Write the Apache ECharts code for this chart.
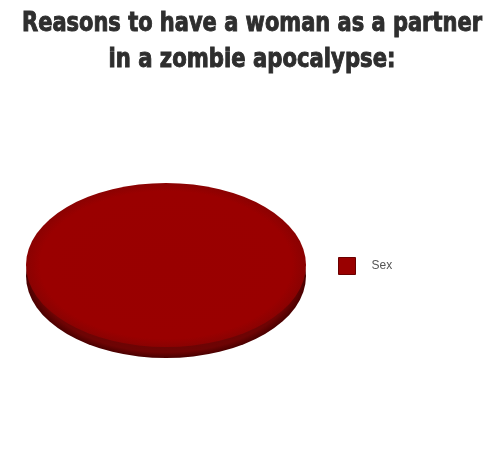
<!DOCTYPE html>
<html>
<head>
<meta charset="utf-8">
<script src="https://cdn.jsdelivr.net/npm/echarts@6/dist/echarts.min.js"></script>
<style>html,body{margin:0;padding:0;background:#fff;}#c{width:500px;height:453px;}</style>
</head>
<body>
<div id="c"></div>
<script>
const titleLines = ['Reasons to have a woman as a partner', 'in a zombie apocalypse:'];
const categories = ['Sex'];
const values = [100];
const colors = ['#990000'];
const sideColors = ['#640000'];

const chart = echarts.init(document.getElementById('c'), null, {renderer: 'canvas'});

const titleFont = 'bold 20px "DejaVu Sans Condensed"';
const ctx = document.createElement('canvas').getContext('2d');
ctx.font = titleFont;
const targetWidths = [460, 287];
const centersY = [24, 60];
const titleGraphics = titleLines.map((t, i) => {
  const w = ctx.measureText(t).width;
  return {
    type: 'text',
    x: 252, y: centersY[i],
    scaleX: targetWidths[i] / w,
    scaleY: 1.36,
    style: {
      text: t,
      font: titleFont,
      fill: '#2e2e2e',
      stroke: '#2e2e2e',
      lineWidth: 0.7,
      align: 'center',
      verticalAlign: 'middle'
    }
  };
});

const total = values.reduce((a, b) => a + b, 0);
const CX = 166, CY = 265, RX = 140, RY = 82, DEPTH = 11;

function makeRender(idx) {
  return function (params, api) {
    let before = 0;
    for (let k = 0; k < idx; k++) before += values[k];
    const v = api.value(0);
    const start = -Math.PI / 2 + (before / total) * Math.PI * 2;
    const end = start + (v / total) * Math.PI * 2;
    const s = RY / RX;
    return {
      type: 'group',
      children: [
        {
          type: 'group',
          x: CX, y: CY + DEPTH, scaleY: s,
          children: [{
            type: 'sector',
            shape: {cx: 0, cy: 0, r: RX, r0: 0, startAngle: start, endAngle: end},
            style: {
              fill: new echarts.graphic.RadialGradient(0.5, 0.5, 0.5, [
                {offset: 0, color: sideColors[idx]},
                {offset: 0.93, color: '#6e0404'},
                {offset: 1, color: '#4a0000'}
              ])
            }
          }]
        },
        {
          type: 'group',
          x: CX, y: CY, scaleY: s,
          children: [{
            type: 'sector',
            shape: {cx: 0, cy: 0, r: RX, r0: 0, startAngle: start, endAngle: end},
            style: {
              fill: new echarts.graphic.RadialGradient(0.5, 0.5, 0.5, [
                {offset: 0, color: colors[idx]},
                {offset: 0.9, color: '#9a0000'},
                {offset: 1, color: '#8a0202'}
              ])
            }
          }]
        }
      ]
    };
  };
}

const option = {
  backgroundColor: '#ffffff',
  animation: false,
  legend: {
    data: categories,
    left: 333,
    top: 252,
    orient: 'vertical',
    icon: 'rect',
    itemWidth: 17,
    itemHeight: 17,
    itemStyle: {borderColor: '#6a0000', borderWidth: 1},
    textStyle: {
      color: '#555555',
      fontSize: 12,
      fontFamily: '"Liberation Sans", Arial, sans-serif',
      padding: [0, 0, 0, 11]
    }
  },
  graphic: titleGraphics,
  series: categories.map((name, i) => ({
    type: 'custom',
    name: name,
    coordinateSystem: 'none',
    itemStyle: {color: colors[i]},
    data: [values[i]],
    renderItem: makeRender(i)
  }))
};
chart.setOption(option);
</script>
</body>
</html>
